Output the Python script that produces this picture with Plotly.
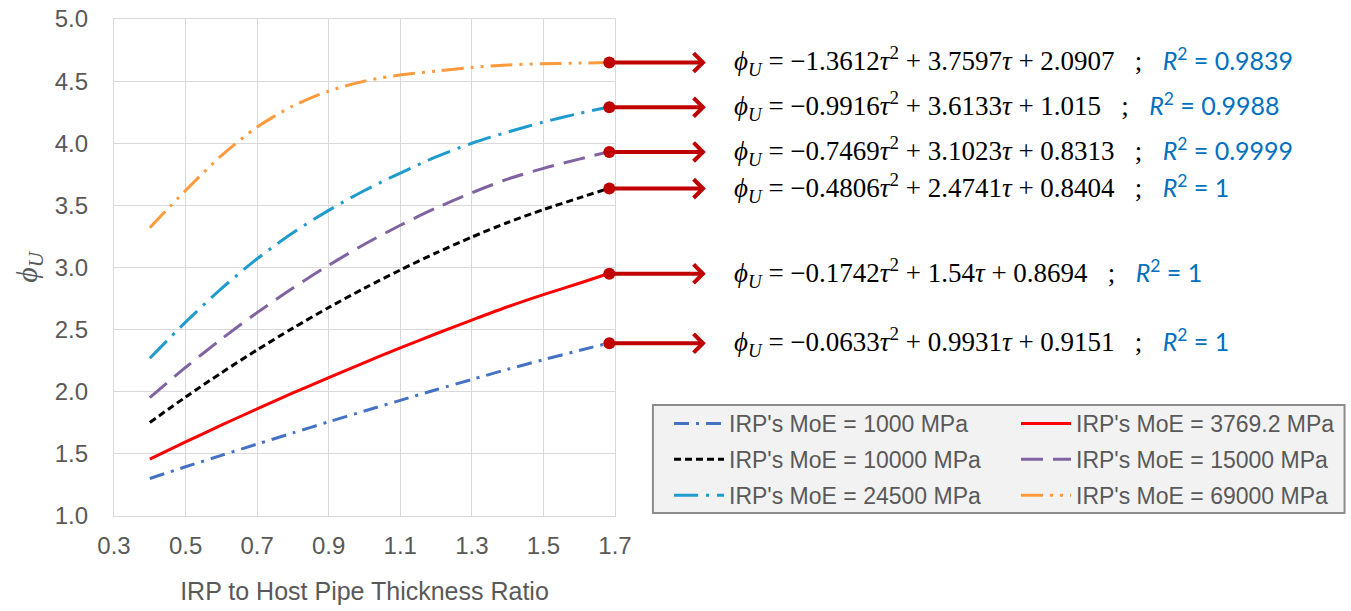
import plotly.graph_objects as go

# ---------------- data ----------------
thickness_ratio = [0.4, 0.5, 0.6, 0.7, 0.8, 0.9, 1.0, 1.1, 1.2, 1.3, 1.4, 1.5, 1.6, 1.68]

moe_1000 = [1.302, 1.396, 1.488, 1.579, 1.669, 1.758, 1.845, 1.931, 2.016, 2.099, 2.181, 2.258, 2.332, 2.390]
moe_3769 = [1.458, 1.596, 1.731, 1.862, 1.990, 2.114, 2.235, 2.353, 2.467, 2.577, 2.684, 2.782, 2.873, 2.950]
moe_10000 = [1.753, 1.957, 2.152, 2.337, 2.512, 2.678, 2.834, 2.980, 3.117, 3.245, 3.362, 3.466, 3.560, 3.635]
moe_15000 = [1.953, 2.196, 2.424, 2.637, 2.835, 3.018, 3.187, 3.340, 3.479, 3.602, 3.711, 3.798, 3.872, 3.930]
moe_24500 = [2.27, 2.56, 2.83, 3.07, 3.28, 3.46, 3.62, 3.76, 3.89, 4.00, 4.09, 4.17, 4.24, 4.29]
moe_69000 = [3.32, 3.62, 3.90, 4.13, 4.30, 4.42, 4.50, 4.55, 4.58, 4.61, 4.63, 4.64, 4.645, 4.65]

series_names = ["IRP's MoE = 1000 MPa", "IRP's MoE = 3769.2 MPa", "IRP's MoE = 10000 MPa",
                "IRP's MoE = 15000 MPa", "IRP's MoE = 24500 MPa", "IRP's MoE = 69000 MPa"]

# fitted equations (a, b, c, R2) shown at the right, in order top to bottom
eq_a = ["−1.3612", "−0.9916", "−0.7469", "−0.4806", "−0.1742", "−0.0633"]
eq_b = ["3.7597", "3.6133", "3.1023", "2.4741", "1.54", "0.9931"]
eq_c = ["2.0907", "1.015", "0.8313", "0.8404", "0.8694", "0.9151"]
eq_r2 = ["0.9839", "0.9988", "0.9999", "1", "1", "1"]

x_ticks = [0.3, 0.5, 0.7, 0.9, 1.1, 1.3, 1.5, 1.7]
y_ticks = [1.0, 1.5, 2.0, 2.5, 3.0, 3.5, 4.0, 4.5, 5.0]

# ---------------- styling ----------------
series_values = [moe_1000, moe_3769, moe_10000, moe_15000, moe_24500, moe_69000]
colors = ["#4472C4", "#FF0000", "#000000", "#8064A2", "#1F9BCD", "#FF9A3C"]
dashes = ["15px,7px,3px,7px", "solid", "7px,4px", "22px,10px",
          "24px,8px,3px,8px", "22px,7px,3px,7px,3px,7px"]
legend_ids = ["legend", "legend2", "legend", "legend2", "legend", "legend2"]

fig = go.Figure()
for i, (name, vals) in enumerate(zip(series_names, series_values)):
    fig.add_trace(go.Scatter(
        x=thickness_ratio, y=vals, name=name, mode="lines",
        line=dict(color=colors[i], width=3, dash=dashes[i], shape="spline", smoothing=0.8),
        legend=legend_ids[i], legendgroup="g%d" % i,
    ))

W, H = 1351, 611
L, R, T, B = 114, 735, 19, 95
pw = W - L - R
ph = H - T - B


def px_x(p):
    return (p - L) / pw


def px_y(p):
    return (H - B - p) / ph


# arrows and equations
end_vals = [moe_69000[-1], moe_24500[-1], moe_15000[-1], moe_10000[-1], moe_3769[-1], moe_1000[-1]]
annotations = []
for k in range(6):
    yv = end_vals[k]
    annotations.append(dict(
        x=px_x(707), xref="paper", y=yv, yref="y", text="",
        showarrow=True, ax=-98, ay=0, axref="pixel", ayref="pixel",
        arrowhead=4, arrowsize=0.9, arrowwidth=4, arrowcolor="#C00000",
        arrowside="end+start", startarrowhead=6, startarrowsize=0.75, standoff=0, startstandoff=0,
    ))
    txt = ("<i>ϕ</i><sub><i>U</i></sub> = %s<i>τ</i><sup>2</sup> + %s<i>τ</i> + %s"
           "\u00a0\u00a0\u00a0;\u00a0\u00a0\u00a0"
           "<span style='font-family:Lato, sans-serif;font-size:25px;color:#0070C0'><i>R</i><sup>2</sup> = %s</span>"
           % (eq_a[k], eq_b[k], eq_c[k], eq_r2[k]))
    annotations.append(dict(
        x=px_x(733), xref="paper", y=yv, yref="y", text=txt, showarrow=False,
        xanchor="left", yanchor="middle", yshift=1,
        font=dict(family="Liberation Serif, serif", size=27, color="#000000"),
    ))

fig.update_layout(
    template="none",
    width=W, height=H,
    margin=dict(l=L, r=R, t=T, b=B, pad=0),
    paper_bgcolor="white", plot_bgcolor="white",
    font=dict(family="Liberation Sans, Arial, sans-serif", color="#595959", size=24),
    xaxis=dict(
        range=[0.3, 1.7], tickvals=x_ticks, ticktext=["%.1f" % v for v in x_ticks],
        automargin=False,
        showgrid=True, gridcolor="#D9D9D9", gridwidth=1.3,
        showline=True, linecolor="#D9D9D9", linewidth=1.3, mirror=True,
        zeroline=False, ticks="", ticklabelstandoff=8,
        tickfont=dict(size=24, color="#595959"),
        title=dict(text="IRP to Host Pipe Thickness Ratio", standoff=24,
                   font=dict(size=25, color="#595959")),
    ),
    yaxis=dict(
        range=[1.0, 5.0], tickvals=y_ticks, ticktext=["%.1f" % v for v in y_ticks],
        automargin=False,
        showgrid=True, gridcolor="#D9D9D9", gridwidth=1.3,
        showline=True, linecolor="#D9D9D9", linewidth=1.3, mirror=True,
        zeroline=False, ticks="", ticklabelstandoff=20,
        tickfont=dict(size=24, color="#595959"),
        title=dict(text="<i>ϕ</i><sub><i>U</i></sub>", standoff=8,
                   font=dict(family="Liberation Serif, serif", size=30, color="#595959")),
    ),
    legend=dict(
        x=px_x(669), y=px_y(402), xanchor="left", yanchor="top",
        orientation="v", bgcolor="rgba(0,0,0,0)", borderwidth=0,
        font=dict(size=23, color="#595959"), itemwidth=50,
        traceorder="grouped", tracegroupgap=3,
    ),
    legend2=dict(
        x=px_x(1016), y=px_y(402), xanchor="left", yanchor="top",
        orientation="v", bgcolor="rgba(0,0,0,0)", borderwidth=0,
        font=dict(size=23, color="#595959"), itemwidth=50,
        traceorder="grouped", tracegroupgap=3,
    ),
    shapes=[dict(
        type="rect", xref="paper", yref="paper",
        x0=px_x(654), x1=px_x(1347), y0=px_y(513), y1=px_y(405),
        fillcolor="#F2F2F2", line=dict(color="#8C8C8C", width=2), layer="below",
    )],
    annotations=annotations,
    showlegend=True,
)

fig.write_html("out.html")
